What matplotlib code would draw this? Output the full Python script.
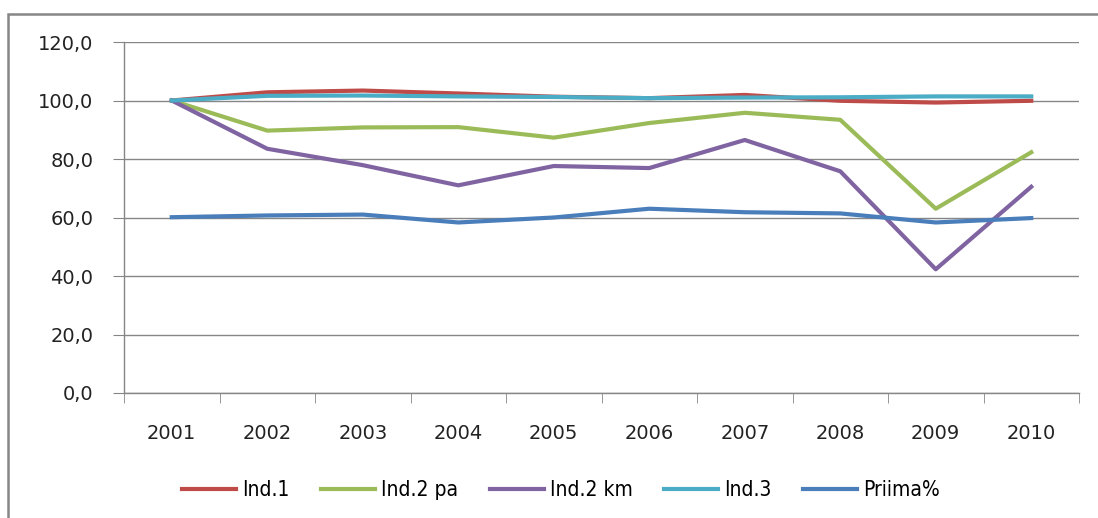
import numpy as np
import matplotlib
matplotlib.use("Agg")
import matplotlib.pyplot as plt
from matplotlib.patches import Rectangle

# data
years = ["2001", "2002", "2003", "2004", "2005", "2006", "2007", "2008", "2009", "2010"]
ind1 = [100.0, 102.8, 103.4, 102.4, 101.3, 100.8, 101.9, 99.9, 99.3, 99.9]
ind2_pa = [100.0, 89.7, 90.8, 90.9, 87.3, 92.3, 95.8, 93.4, 63.0, 82.3]
ind2_km = [100.0, 83.5, 77.9, 71.0, 77.6, 76.9, 86.5, 75.8, 42.3, 70.5]
ind3 = [100.0, 101.6, 101.7, 101.4, 101.2, 100.8, 101.0, 101.1, 101.4, 101.4]
priima = [60.1, 60.7, 61.0, 58.3, 60.0, 63.0, 61.8, 61.4, 58.3, 59.8]

series = [
    ("Ind.1", ind1, "#BE4B48"),
    ("Ind.2 pa", ind2_pa, "#9BBB59"),
    ("Ind.2 km", ind2_km, "#8064A2"),
    ("Ind.3", ind3, "#4BACC6"),
    ("Priima%", priima, "#4A7EBB"),
]

W, H = 1098, 518
fig = plt.figure(figsize=(W / 100, H / 100), dpi=100)
ax = fig.add_axes([124 / W, 1 - 393 / H, (1079 - 124) / W, (393 - 42) / H])

x = np.arange(len(years))
for name, vals, col in series:
    ax.plot(x, vals, color=col, lw=3.0, label=name)

ax.set_xlim(-0.5, len(years) - 0.5)
ax.set_ylim(0, 120)
ax.set_yticks(np.arange(0, 121, 20))
ax.set_yticklabels([f"{v:.1f}".replace(".", ",") for v in np.arange(0, 121, 20)],
                   fontsize=14, color="#222222")
ax.set_xticks(x)
ax.set_xticklabels(years, fontsize=14, color="#222222")
ax.tick_params(axis="x", length=0, pad=22)
ax.set_xticks(np.arange(-0.5, len(years)), minor=True)
ax.tick_params(axis="x", which="minor", length=7, color="#868686", direction="out")
ax.tick_params(axis="y", length=8, color="#868686", pad=14)

ax.grid(axis="y", color="#868686", lw=1.0)
ax.set_axisbelow(True)
for side in ["top", "right"]:
    ax.spines[side].set_visible(False)
for side in ["left", "bottom"]:
    ax.spines[side].set_color("#868686")
    ax.spines[side].set_linewidth(1.0)

ax.legend(loc="center", bbox_to_anchor=(0.511, 1 - 490 / H), bbox_transform=fig.transFigure,
          ncol=5, frameon=False, handlelength=2.6, columnspacing=1.5, handletextpad=0.3,
          prop={"family": "DejaVu Sans", "stretch": "condensed", "size": 15})

# outer chart border
fig.patches.append(Rectangle((8 / W, -0.1), 1.2, 1 - 14 / H + 0.1, transform=fig.transFigure,
                             fill=False, edgecolor="#868686", lw=1.8))

fig.savefig("out.png", dpi=100)
